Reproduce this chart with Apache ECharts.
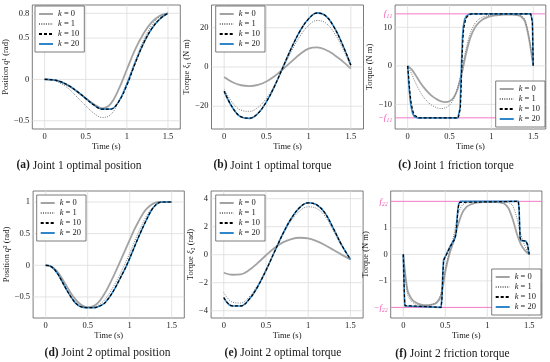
<!DOCTYPE html>
<html>
<head>
<meta charset="utf-8">
<script src="https://cdn.jsdelivr.net/npm/echarts@6/dist/echarts.min.js"></script>
<style>html,body{margin:0;padding:0;background:#fff}#c{width:550px;height:362px}</style>
</head>
<body>
<div id="c"></div>
<script>
// ---------- data ----------
const SERIES_NAMES = ['k = 0', 'k = 1', 'k = 10', 'k = 20'];
const X_RANGE = [-0.15, 1.65];
const X_TICKS = [0, 0.5, 1, 1.5];
const YA_TICKS = [-0.5, 0, 0.5, 0.8];
const YB_TICKS = [-20, 0, 20];
const F11 = 13.5;
const YC_TICKS = [-F11, -10, 0, 10, F11];
const YD_TICKS = [-0.5, 0, 0.5, 1];
const YE_TICKS = [-4, -2, 0, 2, 4];
const F22 = 2.0;
const YF_TICKS = [-F22, -1, 0, 1, F22];

const T10 = [0,0.1,0.2,0.3,0.4,0.5,0.6,0.7,0.8,0.9,1.0,1.1,1.2,1.3,1.4,1.5];
const T05 = [0,0.05,0.1,0.15,0.2,0.25,0.3,0.35,0.4,0.45,0.5,0.55,0.6,0.65,0.7,0.75,0.8,0.85,0.9,0.95,1.0,1.05,1.1,1.15,1.2,1.25,1.3,1.35,1.4,1.45,1.5];

// (a) joint 1 position
const a_k0  = [0,-0.005,-0.03,-0.08,-0.15,-0.23,-0.30,-0.35,-0.30,-0.12,0.12,0.36,0.55,0.69,0.77,0.80];
const a_k1  = [0,-0.01,-0.05,-0.12,-0.22,-0.32,-0.41,-0.46,-0.43,-0.27,-0.04,0.22,0.47,0.65,0.76,0.80];
const a_k10 = [0,-0.005,-0.03,-0.08,-0.15,-0.23,-0.31,-0.36,-0.36,-0.27,-0.07,0.19,0.43,0.61,0.73,0.80];
const a_k20 = [0,-0.005,-0.03,-0.08,-0.15,-0.23,-0.31,-0.36,-0.36,-0.27,-0.06,0.20,0.43,0.61,0.73,0.80];

// (b) joint 1 torque
const b_k0  = [-5.1,-7.8,-9.3,-9.7,-9.1,-7.4,-4.6,-1.0,2.9,6.6,9.4,10.0,8.8,6.3,3.0,-0.8];
const b_k1  = [-11.2,-18.3,-22.0,-22.6,-20.6,-16.0,-9.0,-0.5,8.3,15.8,21.2,23.7,22.5,17.6,9.8,0.2];
const b_k10 = [-12.3,-20.7,-25.4,-26.1,-23.6,-17.7,-9.5,0.3,10.0,18.4,24.5,27.5,26.1,20.4,11.6,0.9];
const b_k20 = [-12.4,-20.8,-25.5,-26.2,-23.7,-17.8,-9.5,0.3,10.0,18.5,24.6,27.6,26.2,20.5,11.6,0.9];

// (c) joint 1 friction torque
const c_k0  = [0,-1.0,-2.6,-4.3,-5.8,-7.0,-8.0,-8.7,-9.2,-9.4,-9.2,-8.2,-5.8,-1.6,3.4,7.4,9.8,11.2,12.1,12.6,12.9,13.1,13.2,13.3,13.3,13.3,13.2,12.9,11.6,7.0,0];
const c_k1  = [0,-2.2,-4.7,-6.8,-8.4,-9.6,-10.4,-10.9,-11.1,-10.9,-10.2,-8.6,-5.4,-0.7,4.6,8.6,10.9,12.1,12.7,13.0,13.2,13.3,13.3,13.3,13.3,13.3,13.3,13.1,12.0,7.5,0];
const c_t10 = [0,0.01,0.02,0.03,0.04,0.06,0.08,0.1,0.13,0.605,0.62,0.63,0.64,0.65,0.66,0.67,0.69,0.71,0.73,0.76,1.47,1.48,1.49,1.5];
const c_k10 = [0,-2.5,-5.2,-7.5,-9.3,-11.6,-12.8,-13.3,-13.5,-13.5,-13.2,-11.0,-5.0,2.0,7.0,9.8,11.8,12.8,13.3,13.5,13.5,13.2,11.5,0];
const c_t20 = [0,0.01,0.02,0.03,0.04,0.06,0.08,0.1,0.12,0.6,0.615,0.625,0.635,0.645,0.655,0.665,0.68,0.7,0.72,0.74,1.47,1.48,1.49,1.5];
const c_k20 = [0,-3.5,-6.5,-8.8,-10.5,-12.4,-13.2,-13.5,-13.5,-13.5,-13.2,-11.0,-5.0,2.0,7.5,10.2,12.0,12.9,13.3,13.5,13.5,13.2,11.5,0];

// (d) joint 2 position
const d_k0  = [0,-0.01,-0.05,-0.12,-0.22,-0.33,-0.44,-0.53,-0.60,-0.645,-0.66,-0.655,-0.62,-0.55,-0.45,-0.33,-0.19,-0.05,0.10,0.25,0.40,0.55,0.68,0.80,0.89,0.95,0.985,1.0,1.0,1.0,1.0];
const d_k1  = [0,-0.01,-0.055,-0.14,-0.25,-0.37,-0.48,-0.57,-0.63,-0.66,-0.67,-0.665,-0.65,-0.61,-0.55,-0.46,-0.35,-0.23,-0.10,0.04,0.19,0.35,0.51,0.65,0.78,0.88,0.95,0.99,1.0,1.0,1.0];
const d_k10 = [0,-0.01,-0.06,-0.15,-0.27,-0.39,-0.50,-0.59,-0.645,-0.665,-0.67,-0.67,-0.665,-0.64,-0.60,-0.52,-0.42,-0.30,-0.17,-0.04,0.11,0.27,0.43,0.58,0.72,0.85,0.94,0.99,1.0,1.0,1.0];
const d_k20 = [0,-0.01,-0.06,-0.15,-0.27,-0.39,-0.50,-0.59,-0.645,-0.665,-0.67,-0.67,-0.665,-0.64,-0.60,-0.52,-0.42,-0.30,-0.17,-0.04,0.11,0.27,0.43,0.58,0.72,0.85,0.94,0.99,1.0,1.0,1.0];

// (e) joint 2 torque
const e_k0  = [-1.29,-1.43,-1.40,-1.10,-0.60,-0.04,0.48,0.88,1.12,1.21,1.16,0.97,0.68,0.33,-0.01,-0.33];
const e_k1  = [-2.70,-3.38,-3.45,-3.02,-2.18,-1.05,0.20,1.42,2.45,3.13,3.42,3.30,2.75,1.70,0.58,-0.32];
const e_k10 = [-3.05,-3.65,-3.66,-3.19,-2.30,-1.12,0.19,1.49,2.59,3.37,3.70,3.56,2.96,1.85,0.65,-0.33];
const e_k20 = [-3.07,-3.66,-3.66,-3.19,-2.30,-1.12,0.20,1.50,2.60,3.38,3.71,3.57,2.97,1.85,0.65,-0.33];

// (f) joint 2 friction torque
const f_k0  = [0,-1.35,-1.68,-1.82,-1.89,-1.92,-1.92,-1.89,-1.82,-1.55,-0.65,0.02,0.5,1.1,1.55,1.78,1.88,1.93,1.96,1.97,1.97,1.97,1.97,1.96,1.92,1.75,1.35,0.8,0.38,0.14,0];
const f_k1  = [0,-1.5,-1.78,-1.88,-1.92,-1.93,-1.92,-1.88,-1.78,-1.45,-0.55,0.1,0.7,1.5,1.85,1.94,1.96,1.97,1.97,1.97,1.97,1.97,1.97,1.97,1.97,1.95,1.85,1.4,0.75,0.3,0];
const f_t10 = [0,0.005,0.01,0.015,0.02,0.03,0.45,0.455,0.46,0.47,0.48,0.5,0.53,0.56,0.59,0.61,0.62,0.63,0.64,0.65,0.66,0.67,0.68,1.37,1.375,1.38,1.385,1.39,1.40,1.46,1.47,1.48,1.49,1.5];
const f_k10 = [0,-0.6,-1.2,-1.7,-1.93,-2.0,-2.0,-1.97,-1.7,-0.8,-0.22,-0.1,0.1,0.3,0.46,0.56,0.62,0.8,1.25,1.65,1.88,1.96,2.0,2.0,1.97,1.7,1.1,0.65,0.53,0.5,0.47,0.36,0.16,0];
const f_t20 = [0,0.005,0.01,0.015,0.02,0.03,0.45,0.455,0.46,0.47,0.48,0.5,0.53,0.56,0.59,0.61,0.62,0.63,0.64,0.65,0.66,0.67,0.68,1.37,1.375,1.38,1.385,1.39,1.40,1.46,1.47,1.48,1.49,1.5];
const f_k20 = [0,-0.7,-1.3,-1.75,-1.95,-2.0,-2.0,-1.95,-1.6,-0.7,-0.2,-0.08,0.12,0.32,0.48,0.58,0.66,0.9,1.35,1.72,1.9,1.97,2.0,2.0,1.95,1.6,1.0,0.62,0.52,0.5,0.47,0.35,0.15,0];

// ---------- styling / layout ----------
const FONT = "'Liberation Serif','DejaVu Serif',serif";
const PINK = '#f27ac6';
const PINK_TXT = '#ec4fae';
const TXT = '#1a1a1a';
const GRIDC = '#dcdcdc';
const STYLES = [
  {color:'#a3a3a3', width:1.8, type:'solid'},
  {color:'#7c7c7c', width:1.0, type:[1,1.3]},
  {color:'#000000', width:1.2, type:[3,2]},
  {color:'#2f86c8', width:1.6, type:'solid'}
];
const Z_ORDER = [3, 4, 6, 5];

const panels = [
  {grid:{left:29.1, top:5, width:151.2, height:124}, ymin:-0.60, ymax:0.90, yt:YA_TICKS, yname:'Position {i|q}¹ (rad)', ngap:17,
   t:[T10,T10,T10,T10], v:[a_k0,a_k1,a_k10,a_k20], smooth:[0.4,0.4,0.4,0.4], leg:{left:35, top:6}, cap:'{b|(a)} Joint 1 optimal position', cx:79, cy:165.5},
  {grid:{left:211.5, top:5, width:152, height:124}, ymin:-31.6, ymax:31.6, yt:YB_TICKS, yname:'Torque {i|ξ}₁ (N m)', ngap:16,
   t:[T10,T10,T10,T10], v:[b_k0,b_k1,b_k10,b_k20], smooth:[0.4,0.4,0.4,0.4], leg:{left:215.7, top:6}, cap:'{b|(b)} Joint 1 optimal torque', cx:272.5, cy:165.5},
  {grid:{left:395.1, top:5, width:150.7, height:124}, ymin:-16.4, ymax:15.8, yt:YC_TICKS, yname:'Torque (N m)', ngap:17.5, pink:F11, plabel:'f₁₁',
   t:[T05,T05,c_t10,c_t20], v:[c_k0,c_k1,c_k10,c_k20], smooth:[0.3,0.3,false,false], leg:{left:495.7, top:81}, cap:'{b|(c)} Joint 1 friction torque', cx:456, cy:165.5},
  {grid:{left:33.1, top:191, width:151.2, height:127}, ymin:-0.833, ymax:1.174, yt:YD_TICKS, yname:'Position {i|q}² (rad)', ngap:18,
   t:[T05,T05,T05,T05], v:[d_k0,d_k1,d_k10,d_k20], smooth:[0.3,0.3,0.3,0.3], leg:{left:36.7, top:195}, cap:'{b|(d)} Joint 2 optimal position', cx:107.5, cy:353},
  {grid:{left:211.1, top:191, width:152, height:127}, ymin:-4.52, ymax:4.55, yt:YE_TICKS, yname:'Torque {i|ξ}₂ (rad)', ngap:13.5,
   t:[T10,T10,T10,T10], v:[e_k0,e_k1,e_k10,e_k20], smooth:[0.4,0.4,0.4,0.4], leg:{left:215.7, top:195}, cap:'{b|(e)} Joint 2 optimal torque', cx:283, cy:353},
  {grid:{left:390.7, top:191, width:151.2, height:127}, ymin:-2.4, ymax:2.39, yt:YF_TICKS, yname:'Torque (N m)', ngap:14, pink:F22, plabel:'f₂₂',
   t:[T05,T05,f_t10,f_t20], v:[f_k0,f_k1,f_k10,f_k20], smooth:[0.3,0.3,false,false], leg:{left:491.7, top:269}, cap:'{b|(f)} Joint 2 friction torque', cx:452.5, cy:354}
];

function num(v){ return v < 0 ? '\u2212' + String(-v) : String(v); }

const option = {animation:false, backgroundColor:'#fff', grid:[], xAxis:[], yAxis:[], series:[], legend:[], graphic:[]};

// a straight reference line drawn as an ordinary line series through the panel's axes
function refLine(i, pts, color, width, z) {
  return {type:'line', name:'', xAxisIndex:i, yAxisIndex:i, z:z, silent:true, symbol:'none',
    lineStyle:{color:color, width:width, type:'solid'}, data:pts};
}

panels.forEach((p, i) => {
  option.grid.push(Object.assign({show:true, borderColor:'#5a5a5a', borderWidth:0.8, backgroundColor:'transparent'}, p.grid));
  option.xAxis.push({
    gridIndex:i, type:'value', min:X_RANGE[0], max:X_RANGE[1],
    axisLine:{show:false}, axisTick:{show:false}, splitLine:{show:false},
    axisLabel:{customValues:X_TICKS, formatter:num, fontFamily:FONT, fontSize:8.5, color:TXT, margin:3},
    name:'Time (s)', nameLocation:'middle', nameGap:i < 3 ? 12 : 11.5,
    nameTextStyle:{fontFamily:FONT, fontSize:8.5, color:TXT}
  });
  const pk = p.pink, pl = p.plabel;
  option.yAxis.push({
    gridIndex:i, type:'value', min:p.ymin, max:p.ymax,
    axisLine:{show:false}, axisTick:{show:false}, splitLine:{show:false},
    axisLabel:{customValues:p.yt, fontFamily:FONT, fontSize:8.5, color:TXT, margin:3,
      formatter: v => { if (pk !== undefined && Math.abs(v - pk) < 1e-9) return '{p|' + pl + '}';
                        if (pk !== undefined && Math.abs(v + pk) < 1e-9) return '{p|\u2212' + pl + '}';
                        return num(v); },
      rich:{p:{color:PINK_TXT, fontStyle:'italic', fontFamily:FONT, fontSize:8.5}}},
    name:p.yname, nameLocation:'middle', nameGap:p.ngap,
    nameTextStyle:{fontFamily:FONT, fontSize:8.5, color:TXT, rich:{i:{fontStyle:'italic', fontFamily:FONT, fontSize:8.5, color:TXT}}}
  });
  // grid lines at the tick values
  X_TICKS.forEach(x => option.series.push(refLine(i, [[x, p.ymin], [x, p.ymax]], GRIDC, 0.8, 1)));
  p.yt.forEach(y => {
    if (pk === undefined || Math.abs(Math.abs(y) - pk) > 1e-9)
      option.series.push(refLine(i, [[X_RANGE[0], y], [X_RANGE[1], y]], GRIDC, 0.8, 1));
  });
  // friction limits
  if (pk !== undefined) {
    option.series.push(refLine(i, [[X_RANGE[0], pk], [X_RANGE[1], pk]], PINK, 1, 2));
    option.series.push(refLine(i, [[X_RANGE[0], -pk], [X_RANGE[1], -pk]], PINK, 1, 2));
  }
  SERIES_NAMES.forEach((nm, s) => {
    const ts = p.t[s], vs = p.v[s];
    option.series.push({
      type:'line', name:nm, xAxisIndex:i, yAxisIndex:i, symbol:'none', showSymbol:false,
      smooth:p.smooth[s], z:Z_ORDER[s], silent:true,
      lineStyle:{color:STYLES[s].color, width:STYLES[s].width, type:STYLES[s].type},
      itemStyle:{color:STYLES[s].color},
      data: ts.map((t, k) => [t, vs[k]])
    });
  });
  option.legend.push({
    data:SERIES_NAMES, orient:'vertical', left:p.leg.left, top:p.leg.top, z:30,
    backgroundColor:'#fff', borderColor:'#5a5a5a', borderWidth:0.8, borderRadius:0,
    padding:[3,5,3,3], itemGap:0, itemWidth:14, itemHeight:8, selectedMode:false,
    itemStyle:{color:'rgba(0,0,0,0)', borderColor:'rgba(0,0,0,0)', borderWidth:0, opacity:0},
    formatter: name => '{i|k} = ' + name.split('= ')[1],
    textStyle:{fontFamily:FONT, fontSize:8.5, color:TXT, lineHeight:10,
      rich:{i:{fontStyle:'italic', fontFamily:FONT, fontSize:8.5, color:TXT, lineHeight:10}}}
  });
  option.graphic.push({
    type:'text', x:p.cx, y:p.cy, silent:true,
    style:{text:p.cap, fontFamily:FONT, fontSize:11.5, fill:TXT, align:'center', verticalAlign:'middle',
      rich:{b:{fontWeight:'bold', fontFamily:FONT, fontSize:11.5, fill:TXT}}}
  });
});

const chart = echarts.init(document.getElementById('c'), null, {renderer:'canvas'});
chart.setOption(option);
</script>
</body>
</html>
